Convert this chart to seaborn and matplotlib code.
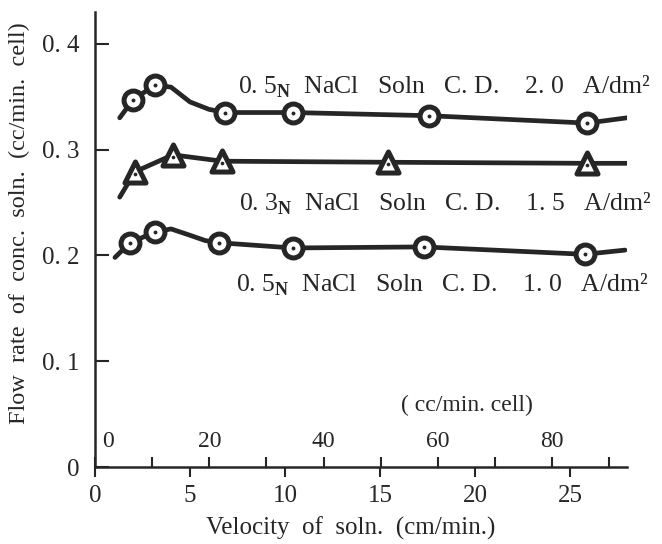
import matplotlib
matplotlib.use("Agg")
import matplotlib.pyplot as plt
import matplotlib.transforms as mtransforms
import seaborn as sns

# ---------------- data ----------------
# measured points (velocity of soln, cm/min ; flow rate of conc. soln, cc/min.cell)
vel_a = [2.0, 3.16, 6.84, 10.4, 17.6, 25.9]
flow_a = [0.347, 0.361, 0.335, 0.335, 0.332, 0.325]
vel_b = [2.1, 4.1, 6.7, 15.4, 25.9]
flow_b = [0.279, 0.295, 0.289, 0.288, 0.287]
vel_c = [1.84, 3.16, 6.5, 10.4, 17.3, 25.8]
flow_c = [0.212, 0.222, 0.212, 0.207, 0.208, 0.201]

# hand-drawn curves
curve_a_x = [1.3, 2.0, 3.16, 4.0, 5.0, 6.0, 6.84, 10.4, 17.6, 25.9, 28.0]
curve_a_y = [0.330, 0.347, 0.361, 0.359, 0.345, 0.338, 0.335, 0.335, 0.332, 0.325, 0.330]
curve_b_x = [1.3, 2.1, 4.1, 6.7, 15.4, 25.9, 28.0]
curve_b_y = [0.255, 0.279, 0.295, 0.289, 0.288, 0.287, 0.287]
curve_c_x = [1.05, 1.84, 3.16, 4.0, 5.0, 5.8, 6.5, 10.4, 17.3, 25.8, 27.9]
curve_c_y = [0.198, 0.212, 0.222, 0.225, 0.219, 0.214, 0.212, 0.207, 0.208, 0.201, 0.205]

labels = [
    r"0. 5$_{\mathbf{N}}$  NaCl   Soln   C. D.    2. 0   A/dm²",
    r"0. 3$_{\mathbf{N}}$  NaCl   Soln   C. D.    1. 5   A/dm²",
    r"0. 5$_{\mathbf{N}}$  NaCl   Soln   C. D.    1. 0   A/dm²",
]
label_x = [7.5, 7.6, 7.4]
label_y = [0.359, 0.249, 0.172]

y_ticks = [0, 0.1, 0.2, 0.3, 0.4]
y_ticklabels = ["0", "0. 1", "0. 2", "0. 3", "0. 4"]
x_ticks = [0, 5, 10, 15, 20, 25]
cc_ticks = [0, 20, 40, 60, 80]
cc_minor = [10, 30, 50, 70, 90]
cc_per_cm = 3.326

# ---------------- style ----------------
sns.set_theme(style="white")
plt.rcParams["font.family"] = ["Liberation Serif", "DejaVu Serif"]
plt.rcParams["mathtext.fontset"] = "custom"
plt.rcParams["mathtext.rm"] = "Liberation Serif"
plt.rcParams["mathtext.bf"] = "Liberation Serif:bold"
INK = "#262626"

fig = plt.figure(figsize=(6.62, 5.44), dpi=100)
ax = fig.add_axes([95 / 662, 77 / 544, 532 / 662, 455 / 544])

for cx, cy in [(curve_a_x, curve_a_y), (curve_b_x, curve_b_y), (curve_c_x, curve_c_y)]:
    sns.lineplot(x=cx, y=cy, sort=False, estimator=None, color=INK, lw=3.4, ax=ax, zorder=2)

for vx, fy in [(vel_a, flow_a), (vel_c, flow_c)]:
    sns.scatterplot(x=vx, y=fy, marker="o", s=185, facecolor="white", edgecolor=INK,
                    linewidth=3.6, ax=ax, zorder=3)
    sns.scatterplot(x=vx, y=fy, marker="o", s=8, color=INK, linewidth=0, ax=ax, zorder=4)
sns.scatterplot(x=vel_b, y=flow_b, marker="^", s=230, facecolor="white", edgecolor=INK,
                linewidth=3.6, ax=ax, zorder=3)
sns.scatterplot(x=vel_b, y=[f - 0.002 for f in flow_b], marker="o", s=7, color=INK,
                linewidth=0, ax=ax, zorder=4)

for t, lx, ly in zip(labels, label_x, label_y):
    ax.text(lx, ly, t, fontsize=18.5, color=INK, ha="left", va="center")

ax.set_xlim(0, 28)
ax.set_ylim(0, 0.43)
sns.despine(ax=ax)
for s in ["left", "bottom"]:
    ax.spines[s].set_color(INK)
    ax.spines[s].set_linewidth(1.8)

ax.set_yticks(y_ticks)
ax.set_yticklabels(y_ticklabels)
ax.set_xticks(x_ticks)
ax.tick_params(axis="y", direction="in", length=10, width=1.5, color=INK,
               labelsize=18, labelcolor=INK, pad=11, left=True)
ax.tick_params(axis="x", direction="out", length=7, width=1.5, color=INK,
               labelsize=18, labelcolor=INK, pad=6, bottom=True)

ax.set_xlabel("Velocity  of  soln.  (cm/min.)", fontsize=18, color=INK)
ax.xaxis.set_label_coords(0.48, -0.11)
ax.set_ylabel("Flow  rate  of  conc.  soln.  (cc/min.  cell)", fontsize=17.5, color=INK)
ax.yaxis.set_label_coords(-0.122, 0.535)

sec = ax.secondary_xaxis(0.0, functions=(lambda v: v * cc_per_cm, lambda v: v / cc_per_cm))
sec.set_alignment("top")
sec.set_xticks(cc_ticks)
sec.set_xticks(cc_minor, minor=True)
sec.tick_params(which="both", direction="out", length=7, width=1.5, color=INK,
                labelsize=17, labelcolor=INK, pad=4)
for sp in sec.spines.values():
    sp.set_visible(False)
# the "0" label sits just right of the y axis in the original
fig.canvas.draw()
first = sec.xaxis.get_majorticklabels()[0]
first.set_transform(first.get_transform() + mtransforms.ScaledTranslation(0.13, 0, fig.dpi_scale_trans))

ax.text(0.70, 0.135, "( cc/min. cell)", transform=ax.transAxes, fontsize=17,
        color=INK, ha="center", va="center")

fig.savefig("out.png", dpi=100)
